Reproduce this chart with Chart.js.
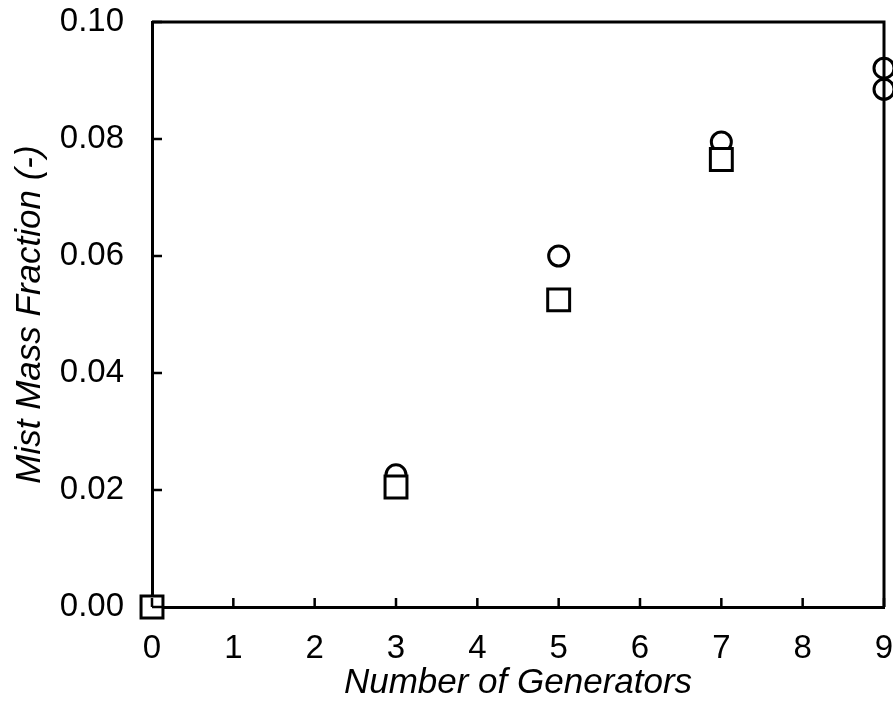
<!DOCTYPE html>
<html>
<head>
<meta charset="utf-8">
<script src="https://cdn.jsdelivr.net/npm/chart.js@4.4.0/dist/chart.umd.min.js"></script>
<style>
    html, body { margin: 0; padding: 0; background: #fff; }
    #wrap { width: 893px; height: 709px; }
</style>
</head>
<body>
<div id="wrap"><canvas id="c" width="893" height="709"></canvas></div>
<script>
// data
var circleX = [0, 3, 5, 7, 9, 9];
var circleY = [0, 0.0226, 0.060, 0.0795, 0.0921, 0.0885];
var squareX = [0, 3, 5, 7];
var squareY = [0, 0.0205, 0.0525, 0.0765];
var xTicks = [0, 1, 2, 3, 4, 5, 6, 7, 8, 9];
var yTicks = [0, 0.02, 0.04, 0.06, 0.08, 0.10];

function toPoints(xs, ys) {
    var out = [];
    for (var i = 0; i < xs.length; i++) {
        out.push({ x: xs[i], y: ys[i] });
    }
    return out;
}

var FONT = '"Liberation Sans", Arial, sans-serif';

function noEdgePadding(s) {
    s.paddingTop = 0;
    s.paddingBottom = 0;
    s.paddingLeft = 0;
    s.paddingRight = 0;
}

// frame (top/right) and inward tick marks
var framePlugin = {
    id: 'frame',
    afterDraw: function (chart) {
        var ctx = chart.ctx;
        var a = chart.chartArea;
        var xs = chart.scales.x;
        var ys = chart.scales.y;
        ctx.save();
        ctx.strokeStyle = '#000';
        ctx.lineWidth = 3;
        ctx.beginPath();
        ctx.moveTo(a.left, a.top);
        ctx.lineTo(a.right, a.top);
        ctx.lineTo(a.right, a.bottom);
        ctx.stroke();
        ctx.lineWidth = 2.5;
        ctx.beginPath();
        xTicks.forEach(function (v) {
            var px = xs.getPixelForValue(v);
            ctx.moveTo(px, a.bottom);
            ctx.lineTo(px, a.bottom - 9);
        });
        yTicks.forEach(function (v) {
            var py = ys.getPixelForValue(v);
            ctx.moveTo(a.left, py);
            ctx.lineTo(a.left + 10, py);
        });
        ctx.stroke();
        ctx.restore();
    }
};

new Chart(document.getElementById('c'), {
    type: 'scatter',
    data: {
        datasets: [{
            label: 'squares',
            data: toPoints(squareX, squareY),
            pointStyle: 'rect',
            pointRadius: 15.5,
            pointBorderWidth: 3,
            pointBorderColor: '#000',
            pointBackgroundColor: '#fff',
            clip: false
        }, {
            label: 'circles',
            data: toPoints(circleX, circleY),
            pointStyle: 'circle',
            pointRadius: 10,
            pointBorderWidth: 3,
            pointBorderColor: '#000',
            pointBackgroundColor: 'rgba(255,255,255,0)',
            clip: false
        }]
    },
    options: {
        responsive: false,
        animation: false,
        layout: { autoPadding: false, padding: { top: 22, right: 9, left: 0, bottom: 0 } },
        plugins: {
            legend: { display: false },
            tooltip: { enabled: false }
        },
        scales: {
            x: {
                type: 'linear',
                min: 0,
                max: 9,
                afterFit: function (s) { s.height = 102; noEdgePadding(s); },
                afterBuildTicks: function (s) {
                    s.ticks = xTicks.map(function (v) { return { value: v }; });
                },
                border: { display: true, color: '#000', width: 3 },
                grid: { display: false, drawTicks: false },
                ticks: {
                    color: '#000',
                    padding: 22,
                    maxRotation: 0,
                    font: { family: FONT, size: 33 }
                },
                title: {
                    display: true,
                    text: 'Number of Generators',
                    color: '#000',
                    padding: { top: 0, bottom: 5 },
                    font: { family: FONT, size: 35, style: 'italic' }
                }
            },
            y: {
                min: 0,
                max: 0.1,
                afterFit: function (s) { s.width = 152; noEdgePadding(s); },
                afterBuildTicks: function (s) {
                    s.ticks = yTicks.map(function (v) { return { value: v }; });
                },
                border: { display: true, color: '#000', width: 3 },
                grid: { display: false, drawTicks: false },
                ticks: {
                    color: '#000',
                    padding: 28,
                    font: { family: FONT, size: 33 },
                    callback: function (v) { return Number(v).toFixed(2); }
                },
                title: {
                    display: true,
                    text: 'Mist Mass Fraction (-)',
                    color: '#000',
                    padding: { top: 9, bottom: 0 },
                    font: { family: FONT, size: 35, style: 'italic' }
                }
            }
        }
    },
    plugins: [framePlugin]
});
</script>
</body>
</html>
